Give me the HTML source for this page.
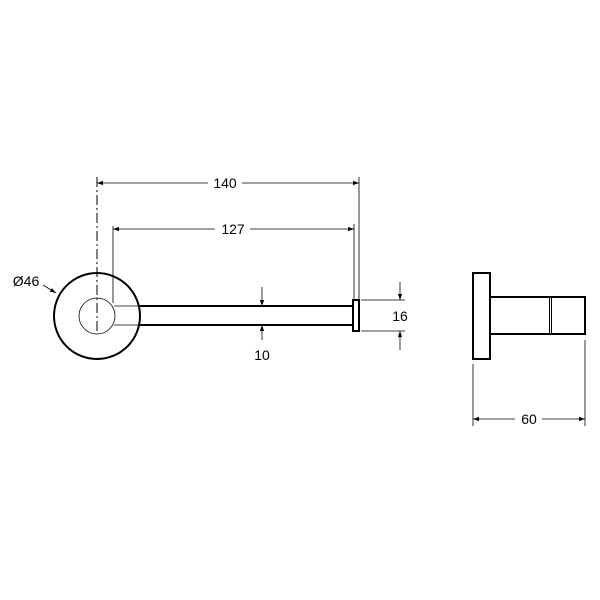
<!DOCTYPE html>
<html><head><style>body{margin:0;background:#fff}svg{display:block}</style></head><body>
<svg width="600" height="600" viewBox="0 0 600 600" xmlns="http://www.w3.org/2000/svg">
<defs>
<marker id="a" viewBox="0 0 10 10" refX="10" refY="5" markerWidth="10" markerHeight="6" orient="auto-start-reverse" markerUnits="userSpaceOnUse"><path d="M0,1.5 L10,5 L0,8.5 z" fill="#000"/></marker>
</defs>
<rect width="600" height="600" fill="#fff"/>
<g fill="none" stroke="#000">
<circle cx="97" cy="316" r="43" stroke-width="2"/>
<circle cx="97" cy="316" r="18" stroke-width="0.8"/>
<line x1="97" y1="177" x2="97" y2="334" stroke-width="1" stroke-dasharray="10,3,2,3"/>
<line x1="138" y1="306" x2="353" y2="306" stroke-width="2"/>
<line x1="138" y1="325" x2="353" y2="325" stroke-width="2"/>
<line x1="114" y1="306" x2="138" y2="306" stroke-width="0.8"/>
<line x1="114" y1="325" x2="138" y2="325" stroke-width="0.8"/>
<rect x="353" y="300" width="6" height="31" stroke-width="2"/>
<line x1="359" y1="177" x2="359" y2="299" stroke-width="0.8"/>
<line x1="97" y1="183" x2="208" y2="183" stroke-width="0.8" marker-start="url(#a)"/>
<line x1="242" y1="183" x2="359" y2="183" stroke-width="0.8" marker-end="url(#a)"/>
<line x1="113" y1="226" x2="113" y2="303" stroke-width="0.8"/>
<line x1="354" y1="224" x2="354" y2="299" stroke-width="0.8"/>
<line x1="113" y1="229" x2="215" y2="229" stroke-width="0.8" marker-start="url(#a)"/>
<line x1="250" y1="229" x2="354" y2="229" stroke-width="0.8" marker-end="url(#a)"/>
<line x1="262" y1="287" x2="262" y2="306" stroke-width="0.8" marker-end="url(#a)"/>
<line x1="262" y1="340" x2="262" y2="325" stroke-width="0.8" marker-end="url(#a)"/>
<line x1="361" y1="300" x2="405" y2="300" stroke-width="0.8"/>
<line x1="361" y1="331" x2="405" y2="331" stroke-width="0.8"/>
<line x1="400" y1="282" x2="400" y2="300" stroke-width="0.8" marker-end="url(#a)"/>
<line x1="400" y1="350" x2="400" y2="331" stroke-width="0.8" marker-end="url(#a)"/>
<line x1="43" y1="285" x2="56" y2="293" stroke-width="0.8" marker-end="url(#a)"/>
<rect x="473" y="273" width="17" height="86" stroke-width="2"/>
<polyline points="490,297 585,297 585,334 490,334" stroke-width="2"/>
<line x1="549.5" y1="297" x2="549.5" y2="334" stroke-width="1"/>
<line x1="551.5" y1="297" x2="551.5" y2="334" stroke-width="1"/>
<line x1="473" y1="364" x2="473" y2="426" stroke-width="0.8"/>
<line x1="585" y1="340" x2="585" y2="426" stroke-width="0.8"/>
<line x1="473" y1="419" x2="515" y2="419" stroke-width="0.8" marker-start="url(#a)"/>
<line x1="542" y1="419" x2="585" y2="419" stroke-width="0.8" marker-end="url(#a)"/>
</g>
<g font-family="Liberation Sans, sans-serif" font-size="14" fill="#000" text-anchor="middle">
<text x="225" y="188">140</text>
<text x="233" y="234">127</text>
<text x="262" y="360">10</text>
<text x="400" y="321">16</text>
<text x="529" y="424">60</text>
<text x="26" y="286">Ø46</text>
</g>
</svg>
</body></html>
